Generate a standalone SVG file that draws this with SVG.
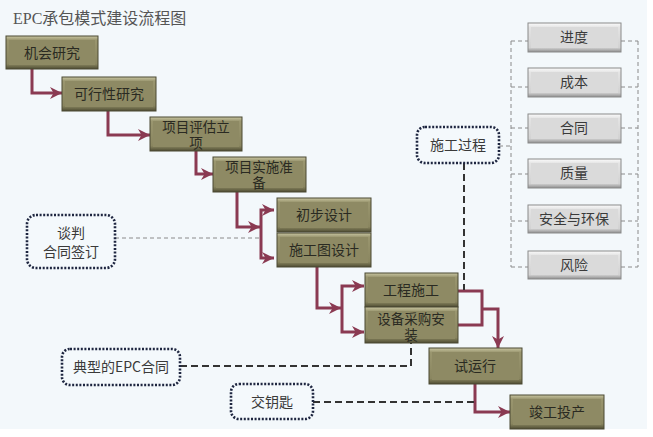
<svg xmlns="http://www.w3.org/2000/svg" width="653" height="437" viewBox="0 0 653 437">
<defs>
<linearGradient id="gOl" x1="0" y1="0" x2="0" y2="1">
<stop offset="0" stop-color="#c9c6a2"/><stop offset="0.12" stop-color="#9a966f"/><stop offset="0.85" stop-color="#8a8660"/><stop offset="1" stop-color="#4e4c33"/>
</linearGradient>
<linearGradient id="gGr" x1="0" y1="0" x2="0" y2="1">
<stop offset="0" stop-color="#fbfbfb"/><stop offset="0.15" stop-color="#e4e4e4"/><stop offset="0.85" stop-color="#d2d2d2"/><stop offset="1" stop-color="#8e8e8e"/>
</linearGradient>
<marker id="ah" markerUnits="userSpaceOnUse" markerWidth="12" markerHeight="12" refX="10" refY="5" orient="auto" viewBox="0 0 10 10">
<path d="M0,0 L10,5 L0,10 L3,5 z" fill="#8a3a52"/>
</marker>
<style>
.ol{fill:url(#gOl);stroke:#4a4832;stroke-width:1}
.oli{fill:#8e8a64}
.gr{fill:url(#gGr);stroke:#8a8a8a;stroke-width:1}
.gri{fill:#dadada}
.t{font-family:"Noto Sans CJK SC","Liberation Serif",sans-serif;font-size:14px;fill:#2a2a22;text-anchor:middle}
.t2{font-family:"Liberation Serif","Noto Sans CJK SC",serif;font-size:13.5px;fill:#2a2a22;text-anchor:middle}
.tg{font-family:"Noto Sans CJK SC","Liberation Serif",sans-serif;font-size:14px;fill:#3a3a3a;text-anchor:middle}
.dot{fill:#f4f9fc;stroke:#1e2640;stroke-width:2.6;stroke-dasharray:2 1.6}
.ar{fill:none;stroke:#8a3a52;stroke-width:3}
.dd{fill:none;stroke:#333;stroke-width:2;stroke-dasharray:7 4}
.gd{fill:none;stroke:#8a8a8a;stroke-width:1;stroke-dasharray:4 3}
</style>
</defs>
<rect x="0" y="0" width="653" height="437" fill="#ffffff"/>
<rect x="0" y="0" width="647" height="429" fill="#f3f8fb"/>
<text x="13" y="24" font-family="Liberation Serif,Noto Sans CJK SC,serif" font-size="16" fill="#555">EPC承包模式建设流程图</text>

<g id="connectors">
<path class="ar" d="M32,68 V93 H62" marker-end="url(#ah)"/>
<path class="ar" d="M108,111 V135 H150" marker-end="url(#ah)"/>
<path class="ar" d="M196,151 V174 H213" marker-end="url(#ah)"/>
<path class="ar" d="M237,192 V227 H260" marker-end="url(#ah)"/>
<path class="ar" d="M261,234 V210 H274" marker-end="url(#ah)"/>
<path class="ar" d="M261,234 V258 H274" marker-end="url(#ah)"/>
<path class="ar" d="M317,267 V308 H341" marker-end="url(#ah)"/>
<path class="ar" d="M342,308 V286 H364" marker-end="url(#ah)"/>
<path class="ar" d="M342,308 V332 H364" marker-end="url(#ah)"/>
<path class="ar" d="M458,291 H482 V325 H458"/>
<path class="ar" d="M482,309 H498 V348" marker-end="url(#ah)"/>
<path class="ar" d="M475,384 V412 H510" marker-end="url(#ah)"/>
<path class="dd" d="M464,163 V290"/>
<path class="dd" d="M180,366 H411 V343"/>
<path class="dd" d="M313,402 H475"/>
<path class="gd" d="M115,238 H261"/>
<path class="gd" d="M499,146 H511"/>
<path class="gd" d="M511,41 V267 M638,41 V267"/>
<path class="gd" d="M511,41 H528 M621,41 H638 M511,87 H528 M621,87 H638 M511,128 H528 M621,128 H638 M511,174 H528 M621,174 H638 M511,221 H528 M621,221 H638 M511,267 H528 M621,267 H638"/>
</g>

<g id="n1"><rect class="ol" x="6" y="36" width="92" height="33"/><rect class="oli" x="9" y="40" width="86" height="25"/><text class="t" x="52" y="58">机会研究</text></g>
<g id="n2"><rect class="ol" x="62" y="77" width="94" height="34"/><rect class="oli" x="65" y="81" width="88" height="26"/><text class="t" x="109" y="99">可行性研究</text></g>
<g id="n3"><rect class="ol" x="150" y="117" width="92" height="34"/><rect class="oli" x="153" y="121" width="86" height="26"/><text class="t2" x="196" y="132">项目评估立<tspan x="196" dy="15.5">项</tspan></text></g>
<g id="n4"><rect class="ol" x="213" y="157" width="93" height="35"/><rect class="oli" x="216" y="161" width="87" height="27"/><text class="t2" x="259" y="172">项目实施准<tspan x="259" dy="15.5">备</tspan></text></g>
<g id="n5"><rect class="ol" x="277" y="198" width="94" height="34"/><rect class="oli" x="280" y="202" width="88" height="26"/><text class="t" x="324" y="220">初步设计</text></g>
<g id="n6"><rect class="ol" x="277" y="233" width="94" height="34"/><rect class="oli" x="280" y="237" width="88" height="26"/><text class="t" x="324" y="255">施工图设计</text></g>
<g id="n7"><rect class="ol" x="365" y="273" width="93" height="34"/><rect class="oli" x="368" y="277" width="87" height="26"/><text class="t" x="411" y="295">工程施工</text></g>
<g id="n8"><rect class="ol" x="365" y="307" width="93" height="36"/><rect class="oli" x="368" y="311" width="87" height="28"/><text class="t2" x="411" y="324">设备采购安<tspan x="411" dy="15.5">装</tspan></text></g>
<g id="n9"><rect class="ol" x="429" y="348" width="93" height="36"/><rect class="oli" x="432" y="352" width="87" height="28"/><text class="t" x="475" y="371">试运行</text></g>
<g id="n10"><rect class="ol" x="510" y="395" width="94" height="34"/><rect class="oli" x="513" y="399" width="88" height="26"/><text class="t" x="557" y="417">竣工投产</text></g>

<g id="g1"><rect class="gr" x="528" y="23" width="93" height="29"/><rect class="gri" x="531" y="27" width="87" height="21"/><text class="tg" x="574" y="42">进度</text></g>
<g id="g2"><rect class="gr" x="528" y="68" width="93" height="29"/><rect class="gri" x="531" y="72" width="87" height="21"/><text class="tg" x="574" y="87">成本</text></g>
<g id="g3"><rect class="gr" x="528" y="114" width="93" height="29"/><rect class="gri" x="531" y="118" width="87" height="21"/><text class="tg" x="574" y="133">合同</text></g>
<g id="g4"><rect class="gr" x="528" y="159" width="93" height="29"/><rect class="gri" x="531" y="163" width="87" height="21"/><text class="tg" x="574" y="178">质量</text></g>
<g id="g5"><rect class="gr" x="528" y="205" width="93" height="28"/><rect class="gri" x="531" y="209" width="87" height="20"/><text class="tg" x="574" y="224">安全与环保</text></g>
<g id="g6"><rect class="gr" x="528" y="251" width="93" height="28"/><rect class="gri" x="531" y="255" width="87" height="20"/><text class="tg" x="574" y="270">风险</text></g>

<g id="d1"><rect class="dot" x="27" y="215" width="88" height="53" rx="9"/><text class="tg" x="71" y="238">谈判<tspan x="71" dy="19">合同签订</tspan></text></g>
<g id="d2"><rect class="dot" x="417" y="127" width="82" height="36" rx="8"/><text class="tg" x="458" y="150">施工过程</text></g>
<g id="d3"><rect class="dot" x="62" y="349" width="118" height="36" rx="8"/><text class="tg" x="121" y="372">典型的EPC合同</text></g>
<g id="d4"><rect class="dot" x="231" y="384" width="82" height="35" rx="8"/><text class="tg" x="272" y="407">交钥匙</text></g>
</svg>
